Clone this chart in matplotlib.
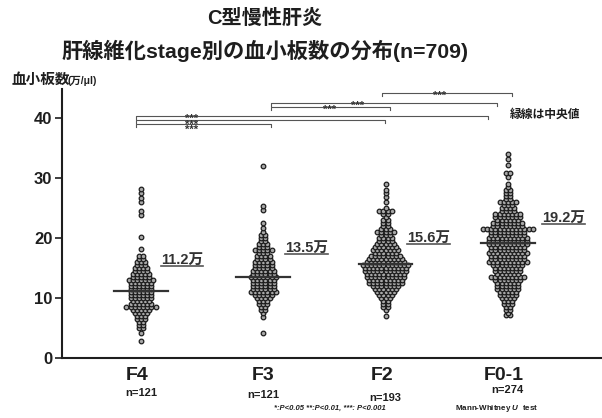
import matplotlib
matplotlib.use('Agg')
import matplotlib.pyplot as plt
from matplotlib.transforms import blended_transform_factory
import numpy as np

plt.rcParams['font.family'] = ['Liberation Sans', 'Noto Sans CJK JP']
plt.rcParams['font.weight'] = 'bold'
plt.rcParams['mathtext.fontset'] = 'custom'
plt.rcParams['mathtext.it'] = 'Liberation Sans:italic:bold'
plt.rcParams['mathtext.rm'] = 'Liberation Sans:bold'

# ---------------- data ----------------
groups = ['F4', 'F3', 'F2', 'F0-1']
n_labels = ['n=121', 'n=121', 'n=193', 'n=274']
medians = [11.2, 13.5, 15.6, 19.2]
median_labels = ['11.2万', '13.5万', '15.6万', '19.2万']

f4_values = [2.9, 4.2, 5.0, 5.5, 6.0, 6.5, 7.0, 7.5, 8.0, 8.5, 9.0, 9.5, 10.0, 10.5,
             11.0, 11.5, 12.0, 12.5, 13.0, 13.5, 14.0, 14.5, 15.0, 15.5, 16.0, 16.5,
             17.0, 18.1, 20.1, 23.8, 24.4, 26.0, 26.7, 27.4, 28.1]
f4_counts = [1, 1, 2, 2, 2, 3, 3, 4, 5, 8, 6, 5, 6, 6,
             6, 6, 6, 6, 7, 5, 5, 4, 4, 3, 3, 2,
             2, 1, 1, 1, 1, 1, 1, 1, 1]

f3_values = [4.2, 6.9, 7.5, 8.0, 8.5, 9.0, 9.5, 10.0, 10.5, 11.0, 11.5, 12.0, 12.5,
             13.0, 13.5, 14.0, 14.5, 15.0, 15.5, 16.0, 16.5, 17.0, 17.5, 18.0, 18.5,
             19.0, 19.5, 20.0, 20.5, 21.0, 21.7, 22.5, 24.7, 25.3, 32.0]
f3_counts = [1, 1, 1, 2, 2, 3, 3, 4, 5, 7, 6, 6, 6,
             6, 7, 6, 6, 5, 5, 5, 4, 4, 3, 5, 3,
             3, 2, 2, 2, 1, 1, 1, 1, 1, 1]

f2_values = [7.0, 8.0, 8.5, 9.0, 9.5, 10.0, 10.5, 11.0, 11.5, 12.0, 12.5, 13.0, 13.5,
             14.0, 14.5, 15.0, 15.5, 16.0, 16.5, 17.0, 17.5, 18.0, 18.5, 19.0, 19.5,
             20.0, 20.5, 21.0, 21.5, 22.0, 22.5, 23.0, 23.5, 24.0, 24.5, 25.0, 26.0,
             26.8, 27.5, 28.0, 28.9]
f2_counts = [1, 1, 2, 2, 2, 3, 4, 5, 6, 7, 9, 9, 10,
             10, 11, 11, 12, 10, 9, 8, 6, 7, 6, 5, 4,
             4, 3, 5, 3, 2, 2, 2, 1, 2, 4, 1, 1,
             1, 1, 1, 1]

f01_values = [7.2, 7.5, 8.0, 8.5, 9.0, 9.5, 10.0, 10.5, 11.0, 11.5,
              12.0, 12.5, 13.0, 13.5, 14.0, 14.5, 15.0, 15.5, 16.0, 16.5,
              17.0, 17.5, 18.0, 18.5, 19.0, 19.5, 20.0, 20.5, 21.0, 21.5,
              22.0, 22.5, 23.0, 23.5, 24.0, 24.5, 25.0, 25.5, 26.0, 26.5,
              27.0, 27.5, 28.0, 28.5, 29.0, 30.2, 30.8, 32.2, 33.1, 34.0]
f01_counts = [2, 1, 2, 2, 3, 3, 4, 5, 5, 6,
              6, 6, 7, 9, 6, 7, 7, 8, 10, 9,
              9, 10, 9, 9, 10, 10, 10, 9, 9, 13,
              8, 8, 6, 7, 7, 4, 4, 3, 5, 2,
              2, 2, 2, 1, 1, 1, 2, 1, 1, 1]

group_values = [f4_values, f3_values, f2_values, f01_values]
group_counts = [f4_counts, f3_counts, f2_counts, f01_counts]

# significance comparisons (group index pairs) and labels
comparisons = [(0, 1), (0, 2), (0, 3), (1, 2), (1, 3), (2, 3)]
sig_labels = ['***', '***', '***', '***', '***', '***']

# ---------------- layout ----------------
W, H = 602, 418
fig = plt.figure(figsize=(W / 100, H / 100), dpi=100)
fig.patch.set_facecolor('white')

def fx(px):
    return px / W

def fy(py):
    return 1 - py / H

ax = fig.add_axes([fx(62), fy(358), (W - 62) / W, (358 - 89) / H])
ax.set_xlim(0.354, 4.77)
ax.set_ylim(0, 44.8)

dark = '#1e1e1e'
dx = 0.034
for gi, (vals, cnts) in enumerate(zip(group_values, group_counts)):
    xs, ys = [], []
    for v, c in zip(vals, cnts):
        for j in range(c):
            xs.append(gi + 1 + (j - (c - 1) / 2) * dx)
            ys.append(v)
    ax.scatter(xs, ys, s=11, facecolors='#a8a8a8', edgecolors='#1c1c1c',
               linewidths=0.9, zorder=3)
    # median line
    ax.plot([gi + 1 - 0.22, gi + 1 + 0.22], [medians[gi]] * 2,
            color='#333333', lw=1.6, zorder=4)

# median value labels (underlined)
label_offsets = [0.164, 0.177, 0.175, 0.279]
label_y = [16.3, 18.3, 20.0, 23.3]
fig.canvas.draw()
for gi in range(4):
    t = ax.text(gi + 1 + label_offsets[gi], label_y[gi], median_labels[gi],
                fontsize=10.5, fontweight='bold', color='#333333',
                ha='left', va='center', zorder=5)
    bb = t.get_window_extent(renderer=fig.canvas.get_renderer()).transformed(
        ax.transData.inverted())
    ax.plot([bb.x0, bb.x1], [bb.y0 + 0.15, bb.y0 + 0.15], color='#555555', lw=1.2,
            zorder=5)

# significance brackets
bracket_y = [39.0, 39.7, 40.3, 41.8, 42.5, 44.2]
x_ends = [(0.96, 2.06), (0.96, 2.995), (0.96, 3.84), (2.06, 3.04), (2.06, 3.91),
          (2.97, 4.03)]
for (x1, x2), yb in zip(x_ends, bracket_y):
    d = 0.55
    ax.plot([x1, x1, x2, x2], [yb - d, yb, yb, yb - d], color='#555555', lw=0.8,
            clip_on=False, zorder=2)

# stacked stars for the three F4 comparisons (one text block)
ax.text(1.417, 38.9, '\n'.join(sig_labels[:3]), fontsize=8, fontweight='bold',
        color='#333333', ha='center', va='center', linespacing=0.42,
        clip_on=False, zorder=3)
star_pos = [(2.545, 41.3), (2.77, 42.0), (3.445, 43.7)]
for lab, (sx, sy) in zip(sig_labels[3:], star_pos):
    ax.text(sx, sy, lab, fontsize=8, fontweight='bold', color='#333333',
            ha='center', va='center', clip_on=False, zorder=3)

# axes styling
for s in ['top', 'right']:
    ax.spines[s].set_visible(False)
for s in ['left', 'bottom']:
    ax.spines[s].set_linewidth(1.5)
    ax.spines[s].set_color(dark)
ax.set_yticks([0, 10, 20, 30, 40])
ax.set_yticklabels(['0', '10', '20', '30', '40'], fontsize=12, fontweight='bold',
                   color=dark)
ax.tick_params(axis='y', length=5, width=1.2, pad=2, color=dark)
ax.set_xticks([])

trans = blended_transform_factory(ax.transData, fig.transFigure)
n_y = [393, 395, 398, 390]
f_dx = [-0.03, 0.0, -0.03, -0.03]
for gi in range(4):
    ax.text(gi + 1 + f_dx[gi], fy(375), groups[gi],
            transform=trans, fontsize=14, fontweight='bold', color=dark,
            ha='center', va='center')
    ax.text(gi + 1 + 0.0, fy(n_y[gi]), n_labels[gi], transform=trans,
            fontsize=8, fontweight='bold', color=dark, ha='center', va='center')

# titles
fig.text(fx(265), fy(18), 'C型慢性肝炎', fontsize=14.5, fontweight='bold',
         ha='center', va='center', color=dark)
fig.text(fx(265), fy(51), '肝線維化stage別の血小板数の分布(n=709)', fontsize=15.3,
         fontweight='bold', ha='center', va='center', color=dark)

# y label
fig.text(fx(12), fy(84), '血小板数', fontsize=10.5, fontweight='bold',
         ha='left', va='baseline', color=dark)
fig.text(fx(68), fy(84), '(万/μl)', fontsize=7.5, fontweight='bold',
         ha='left', va='baseline', color=dark)

# legend note
fig.text(fx(510), fy(115), '緑線は中央値', fontsize=8.5, fontweight='bold',
         ha='left', va='center', color=dark)

# footnotes
fig.text(fx(330), fy(408), '*:P<0.05 **:P<0.01, ***: P<0.001', fontsize=5.5,
         fontweight='bold', fontstyle='italic', ha='center', va='center', color=dark)
fig.text(fx(497), fy(408), 'Mann-Whitney $U$  test', fontsize=5.8,
         fontweight='bold', ha='center', va='center', color=dark)

fig.savefig('out.png', dpi=100, facecolor='white')
